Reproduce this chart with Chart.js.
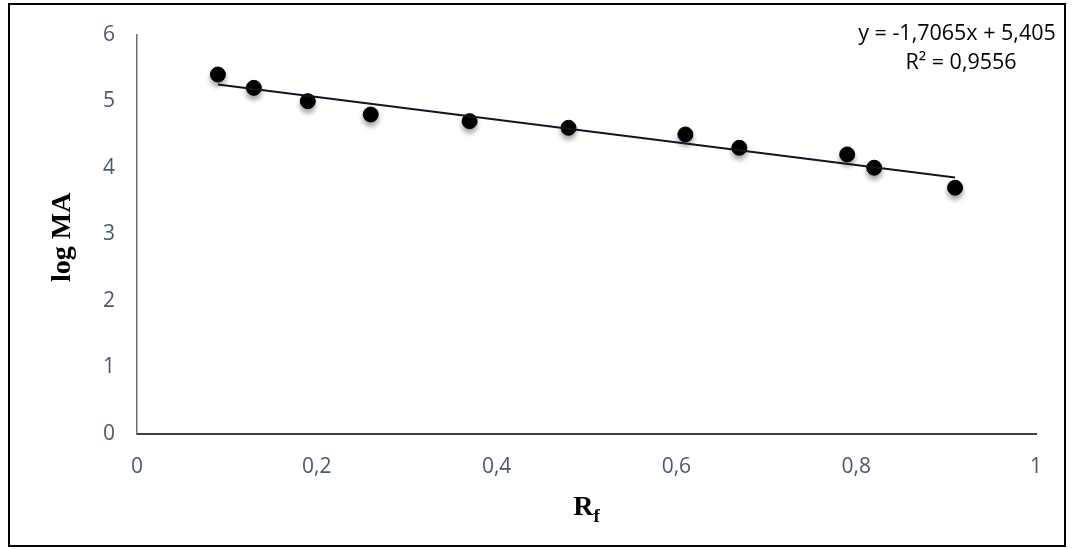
<!DOCTYPE html>
<html>
<head>
<meta charset="utf-8">
<script src="https://cdn.jsdelivr.net/npm/chart.js@4.4.1/dist/chart.umd.min.js"></script>
<style>
    html, body { margin: 0; padding: 0; background: #fff; }
    canvas { display: block; }
</style>
</head>
<body>
<canvas id="rfChart" width="1072" height="549"></canvas>
<script>
// Rf values and log MA values
const rfValues = [0.09, 0.13, 0.19, 0.26, 0.37, 0.48, 0.61, 0.67, 0.79, 0.82, 0.91];
const logMA = [5.4, 5.2, 5.0, 4.8, 4.7, 4.6, 4.5, 4.3, 4.2, 4.0, 3.7];

// Linear trendline end points (from the displayed equation)
const trendX = [0.09, 0.91];
const trendY = [5.251, 3.852];

const equationLines = ['y = -1,7065x + 5,405', 'R² = 0,9556'];

const xTicks = [0, 0.2, 0.4, 0.6, 0.8, 1];
const yTicks = [0, 1, 2, 3, 4, 5, 6];

const tickColor = '#4a5870';
const tickFont = { family: '"Open Sans", sans-serif', size: 21 };

function commaNumber(v) {
    return String(Math.round(v * 10) / 10).replace('.', ',');
}

// Soft shadow under the markers
const markerShadow = {
    id: 'markerShadow',
    beforeDatasetDraw(chart, args) {
        if (args.index !== 1) return;
        const ctx = chart.ctx;
        ctx.save();
        ctx.shadowColor = 'rgba(0, 0, 0, 0.35)';
        ctx.shadowBlur = 5;
        ctx.shadowOffsetY = 4;
    },
    afterDatasetDraw(chart, args) {
        if (args.index !== 1) return;
        chart.ctx.restore();
    }
};

// Frame, axis titles and the equation text
const decorations = {
    id: 'decorations',
    afterDraw(chart) {
        const ctx = chart.ctx;
        const area = chart.chartArea;
        ctx.save();

        // outer frame
        ctx.strokeStyle = '#000';
        ctx.lineWidth = 2;
        ctx.strokeRect(9, 4, 1056, 542);

        // y title
        ctx.fillStyle = '#000';
        ctx.font = 'bold 28px "Liberation Serif", "Times New Roman", serif';
        ctx.textAlign = 'center';
        ctx.textBaseline = 'middle';
        ctx.translate(63, (area.top + area.bottom) / 2 + 3);
        ctx.rotate(-Math.PI / 2);
        ctx.fillText('log MA', 0, 0);
        ctx.setTransform(1, 0, 0, 1, 0, 0);

        // x title R with subscript f
        const cx = (area.left + area.right) / 2;
        ctx.textBaseline = 'alphabetic';
        ctx.textAlign = 'left';
        ctx.font = 'bold 28px "Liberation Serif", "Times New Roman", serif';
        const rWidth = ctx.measureText('R').width;
        ctx.font = 'bold 19px "Liberation Serif", "Times New Roman", serif';
        const fWidth = ctx.measureText('f').width;
        const startX = cx - (rWidth + fWidth) / 2;
        ctx.font = 'bold 28px "Liberation Serif", "Times New Roman", serif';
        ctx.fillText('R', startX, 515);
        ctx.font = 'bold 19px "Liberation Serif", "Times New Roman", serif';
        ctx.fillText('f', startX + rWidth, 522);

        // equation and R squared
        ctx.font = '21.5px "Open Sans", sans-serif';
        ctx.textAlign = 'center';
        ctx.textBaseline = 'middle';
        ctx.fillText(equationLines[0], 957, 34);
        ctx.fillText(equationLines[1], 961, 63);

        ctx.restore();
    }
};

const ctx = document.getElementById('rfChart').getContext('2d');

new Chart(ctx, {
    type: 'scatter',
    data: {
        datasets: [
            {
                type: 'line',
                label: 'Linear trend',
                data: trendX.map((x, i) => ({ x: x, y: trendY[i] })),
                borderColor: '#0b1722',
                borderWidth: 2,
                pointRadius: 0,
                fill: false
            },
            {
                label: 'log MA',
                data: rfValues.map((x, i) => ({ x: x, y: logMA[i] })),
                backgroundColor: '#000',
                borderColor: '#000',
                pointRadius: 7.5,
                pointHoverRadius: 7.5
            }
        ]
    },
    options: {
        responsive: false,
        animation: false,
        layout: {
            padding: { top: 32, right: 36, left: 0, bottom: 0 }
        },
        plugins: {
            legend: { display: false },
            tooltip: { enabled: false }
        },
        scales: {
            x: {
                type: 'linear',
                min: 0,
                max: 1,
                afterBuildTicks: scale => {
                    scale.ticks = xTicks.map(v => ({ value: v }));
                },
                afterFit: scale => { scale.height = 115; },
                grid: { display: false, drawTicks: false },
                border: { color: '#404040', width: 2 },
                ticks: {
                    color: tickColor,
                    font: tickFont,
                    padding: 20,
                    maxRotation: 0,
                    callback: v => commaNumber(v)
                }
            },
            y: {
                type: 'linear',
                min: 0,
                max: 6,
                afterBuildTicks: scale => {
                    scale.ticks = yTicks.map(v => ({ value: v }));
                },
                afterFit: scale => { scale.width = 137; },
                grid: { display: false, drawTicks: false },
                border: { color: '#6b6b6b', width: 1.5 },
                ticks: {
                    color: tickColor,
                    font: tickFont,
                    padding: 22,
                    callback: v => String(v)
                }
            }
        }
    },
    plugins: [markerShadow, decorations]
});
</script>
</body>
</html>
